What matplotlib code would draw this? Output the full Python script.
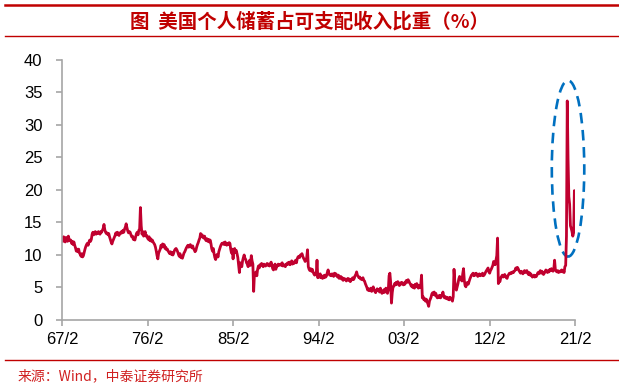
import numpy as np
import matplotlib
matplotlib.use('Agg')
import matplotlib.pyplot as plt
from matplotlib.lines import Line2D
from matplotlib.patches import Ellipse

# US personal saving rate, monthly, 1967/2 - 2021/2 (%)
rate_67_79 = [
    12.6, 12.1, 12.8, 12.2, 12.0, 12.7, 12.3, 12.1, 12.9, 12.4, 12.2,
    12.3, 11.8, 12.1, 11.6, 12.0, 11.5, 11.1, 10.6, 10.9, 10.5, 10.9, 10.3,
    10.1, 9.8, 10.2, 9.7, 9.9, 10.4, 10.9, 11.3, 11.6, 11.8, 11.5, 12.0,
    12.3, 12.1, 12.4, 13.2, 13.5, 13.1, 13.4, 13.6, 13.2, 13.5, 13.3, 13.6,
    13.4, 13.2, 13.6, 13.5, 13.8, 14.1, 14.7, 13.9, 13.5, 13.3, 13.4, 13.1,
    13.3, 12.8, 12.4, 12.0, 11.7, 12.1, 12.4, 12.7, 13.0, 13.4, 13.1, 13.5,
    13.2, 13.0, 13.4, 13.3, 13.6, 13.4, 13.8, 13.5, 14.0, 14.3, 14.8, 14.2,
    13.7, 13.4, 13.6, 13.5, 13.1, 12.8, 12.9, 12.4, 12.6, 12.3, 12.8, 13.3,
    13.5, 13.1, 13.8, 14.0, 17.3, 14.5, 13.2, 13.6, 12.9, 13.3, 13.6, 12.9,
    13.0, 12.6, 12.4, 12.8, 12.2, 12.5, 12.1, 12.3, 12.0, 11.8, 11.6, 11.2,
    10.6, 9.9, 9.4, 10.3, 10.6, 10.9, 11.5, 11.2, 11.7, 11.4, 11.6, 11.0,
    11.2, 10.8, 10.9, 10.6, 10.4, 10.2, 10.5, 10.1, 10.4, 10.0, 10.3, 10.7,
    10.9, 11.0, 10.8, 10.5, 10.1, 9.8, 10.2, 9.6, 9.8, 9.5, 9.9, 10.3,
]
rate_80_89 = [
    10.5, 10.8, 11.1, 11.3, 11.5, 11.2, 11.4, 11.6, 11.3, 11.1, 11.4, 11.0,
    10.8, 10.5, 10.7, 11.2, 11.6, 11.9, 12.3, 12.6, 13.3, 12.9, 13.1, 12.7,
    12.6, 12.9, 12.4, 12.2, 12.5, 12.1, 12.4, 12.0, 12.3, 11.8, 11.0, 10.6,
    11.0, 10.2, 9.6, 9.3, 9.8, 10.1, 9.7, 10.5, 10.9, 11.3, 11.6, 11.8,
    11.7, 11.9, 11.6, 12.0, 11.7, 11.5, 11.8, 11.6, 11.9, 11.8, 10.9, 10.3,
    10.9, 9.4, 10.8, 11.0, 10.4, 10.7, 10.2, 9.6, 8.5, 7.3, 8.8, 8.5,
    8.2, 9.1, 9.6, 10.0, 9.5, 9.3, 8.8, 8.6, 8.2, 8.9, 9.2, 8.4,
    9.9, 9.1, 8.6, 4.4, 7.2, 6.9, 7.4, 6.8, 7.8, 8.3, 8.0, 8.5,
    8.4, 8.7, 8.5, 8.2, 8.6, 8.4, 8.3, 8.5, 8.7, 8.4, 8.6, 8.3,
    8.6, 8.9, 8.5, 7.9, 7.7, 8.2, 8.6, 7.8, 8.4, 8.3, 8.6, 8.4,
]
rate_90_99 = [
    8.5, 8.6, 8.4, 8.8, 8.3, 8.5, 8.4, 8.2, 8.6, 8.5, 8.8, 8.6,
    8.9, 8.5, 8.8, 9.1, 8.6, 8.9, 8.7, 9.0, 9.2, 8.8, 9.4, 9.7,
    9.8, 9.6, 10.0, 9.9, 10.2, 9.8, 9.5, 9.3, 9.0, 9.3, 9.6, 10.8,
    8.2, 7.8, 7.6, 7.9, 7.5, 7.8, 7.4, 7.1, 6.9, 7.2, 7.0, 9.2,
    6.5, 7.0, 6.6, 7.1, 6.5, 6.7, 6.4, 6.8, 6.5, 6.9, 6.6, 6.8,
    7.3, 7.7, 7.2, 6.9, 7.0, 6.8, 7.1, 6.9, 6.7, 7.2, 6.9, 7.1,
    6.8, 6.6, 6.9, 6.4, 6.5, 6.7, 6.3, 6.5, 6.1, 6.4, 6.2, 6.3,
    6.0, 6.2, 6.4, 6.1, 6.3, 5.9, 6.1, 6.3, 6.5, 6.2, 6.4, 6.8,
    7.0, 7.4, 6.9, 6.7, 6.5, 6.6, 6.3, 6.4, 6.2, 6.5, 6.1, 6.0,
    5.6, 5.3, 5.0, 4.6, 4.8, 4.5, 4.7, 4.9, 4.4, 4.8, 5.1, 4.6,
]
rate_00_09 = [
    4.4, 4.2, 4.6, 4.8, 4.5, 4.7, 4.3, 4.9, 4.4, 4.1, 4.5, 4.2,
    4.7, 4.3, 4.9, 4.4, 4.1, 4.6, 6.8, 7.2, 5.8, 2.6, 4.2, 5.1,
    5.2, 5.6, 5.4, 5.8, 5.5, 5.9, 5.6, 5.3, 5.7, 5.5, 5.8, 5.6,
    5.4, 5.7, 5.5, 5.9, 6.1, 5.8, 6.2, 6.0, 5.7, 5.5, 5.2, 5.4,
    5.0, 5.3, 4.9, 5.5, 5.1, 5.6, 5.2, 4.9, 5.3, 5.0, 5.4, 6.9,
    3.4, 3.6, 3.1, 3.3, 2.9, 3.2, 2.8, 2.5, 2.1, 2.9, 3.2, 3.5,
    4.0, 4.2, 3.9, 4.3, 3.8, 4.1, 3.6, 3.4, 3.7, 3.5, 3.8, 3.4,
    3.6, 3.9, 4.3, 3.7, 3.4, 3.6, 3.3, 3.5, 3.2, 3.4, 3.1, 3.5,
    3.3, 3.2, 2.9, 3.6, 7.8, 5.9, 4.9, 4.6, 5.1, 5.6, 6.3, 6.7,
    6.5, 6.2, 6.0, 7.1, 7.9, 6.1, 5.3, 5.1, 5.6, 5.8, 5.5, 5.9,
]
rate_10_21 = [
    6.3, 6.6, 6.9, 7.0, 7.2, 6.8, 7.1, 6.9, 7.2, 7.0, 6.7, 6.9,
    7.1, 6.8, 7.0, 6.9, 7.2, 6.8, 6.9, 7.1, 7.4, 7.6, 7.8, 8.0,
    7.4, 7.2, 7.6, 7.8, 8.1, 8.4, 9.0, 8.7, 8.5, 9.2, 9.9, 12.6,
    5.6, 6.1, 5.9, 6.5, 6.7, 6.9, 6.6, 6.8, 7.0, 6.7, 6.5, 6.4,
    6.8, 7.0, 7.2, 7.1, 7.3, 7.2, 7.4, 7.3, 7.5, 7.6, 8.0, 7.8,
    8.1, 7.9, 7.6, 7.4, 7.2, 7.5, 7.3, 7.1, 7.4, 7.6, 7.3, 7.5,
    7.6, 7.2, 7.0, 7.3, 6.9, 7.1, 6.8, 6.6, 6.7, 6.9, 6.6, 6.8,
    6.7, 7.0, 7.3, 7.1, 7.4, 7.6, 7.2, 7.5, 7.3, 7.0, 7.2, 7.4,
    7.7, 7.5, 7.3, 7.6, 7.4, 7.8, 7.6, 7.9, 7.7, 7.5, 7.8, 9.2,
    7.7, 7.5, 7.4, 7.6, 7.3, 7.5, 7.4, 7.6, 7.7, 7.4, 7.6, 7.3,
    8.2, 8.4, 12.9, 33.7, 24.8, 19.0, 17.8, 14.5, 14.1, 13.6, 12.9, 13.4,
    19.9, 13.6,
]
tick_labels = ['67/2', '76/2', '85/2', '94/2', '03/2', '12/2', '21/2']

rate = rate_67_79 + rate_80_89 + rate_90_99 + rate_00_09 + rate_10_21

plt.rcParams['font.family'] = ['Liberation Sans', 'Noto Sans CJK SC']

red = '#C00000'
fig = plt.figure(figsize=(6.19, 3.89), dpi=100)
ax = fig.add_axes([0.1002, 0.1774, 0.829, 0.6684])

x = np.arange(len(rate))
ax.plot(x, rate, color='#C0002F', lw=2.0)
ax.set_xlim(0, len(rate) - 1)
ax.set_ylim(0, 40)
ax.set_xticks(np.arange(0, len(rate), 108))
ax.set_xticklabels(tick_labels)
ax.set_yticks(range(0, 41, 5))

for s in ['top', 'right']:
    ax.spines[s].set_visible(False)
for s in ['left', 'bottom']:
    ax.spines[s].set_color('#A6A6A6')
    ax.spines[s].set_linewidth(1.2)
ax.tick_params(direction='out', length=4, width=1.2, color='#A6A6A6',
               labelsize=12, labelcolor='black')
ax.tick_params(axis='y', pad=10)
ax.tick_params(axis='x', pad=5)

# highlight the 2020 spike
ell = Ellipse((639, 23.3), 41, 27.1, fill=False, edgecolor='#0070C0',
              lw=1.9, ls=(0, (4, 2.5)), clip_on=False)
ax.add_patch(ell)

fig.add_artist(Line2D([5 / 619, 1], [0.987, 0.987], color=red, lw=1.8))
fig.add_artist(Line2D([5 / 619, 1], [0.908, 0.908], color=red, lw=1))
fig.add_artist(Line2D([5 / 619, 1], [0.0746, 0.0746], color=red, lw=1))

fig.text(0.50, 0.944, '图  美国个人储蓄占可支配收入比重（%）', color=red,
         fontsize=14, fontweight='bold', ha='center', va='center',
         family=['Noto Sans CJK SC'])
fig.text(0.028, 0.034, '来源：Wind，中泰证券研究所', color='#D02020',
         fontsize=10, ha='left', va='center', family=['Noto Sans CJK SC'])

fig.savefig('out.png', dpi=100)
